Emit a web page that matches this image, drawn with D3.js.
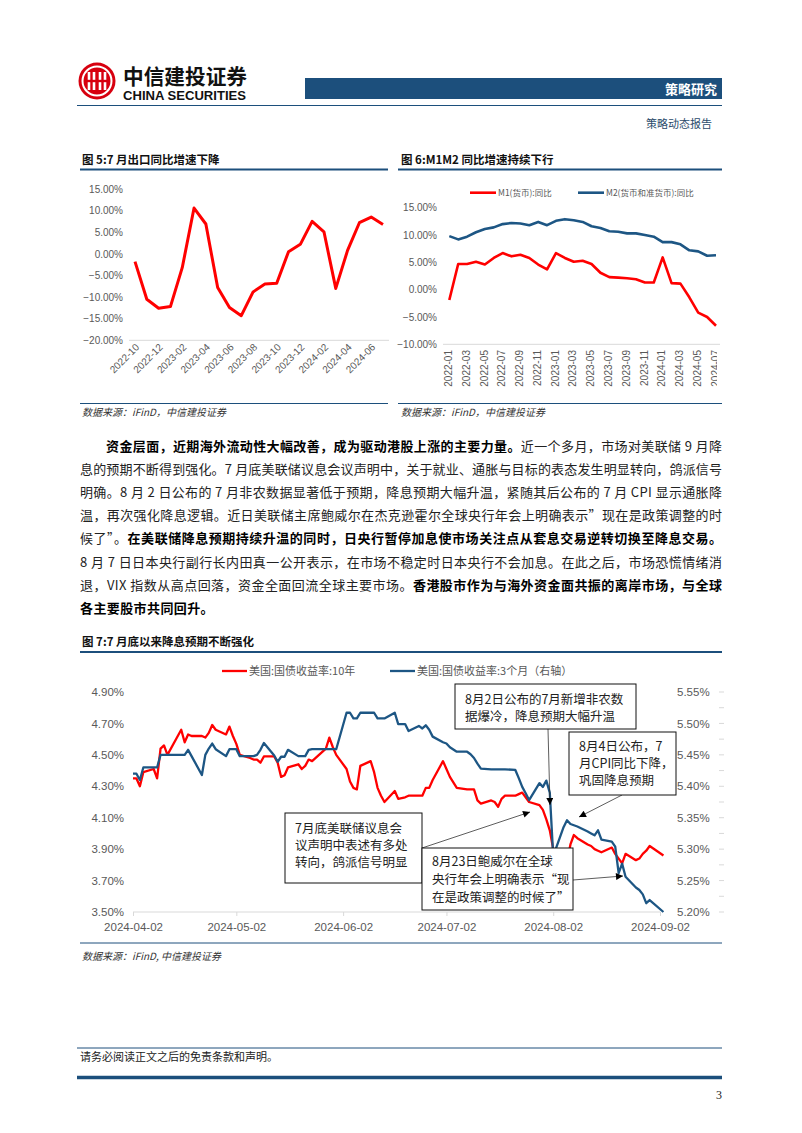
<!DOCTYPE html>
<html><head><meta charset="utf-8">
<script src="https://cdn.jsdelivr.net/npm/d3@7"></script>
<style>body{margin:0;background:#fff}svg{display:block}</style>
</head><body>
<svg id="page" width="802" height="1133"></svg>
<script>
// ---------- Chart 5 data ----------
const exportMonths = ["2022-10","2022-11","2022-12","2023-01","2023-02","2023-03","2023-04","2023-05","2023-06","2023-07","2023-08","2023-09","2023-10","2023-11","2023-12","2024-01","2024-02","2024-03","2024-04","2024-05","2024-06","2024-07"];
const exportYoY = [-1.8,-10.5,-12.6,-12.2,-3.2,10.6,6.9,-7.8,-12.4,-14.3,-8.8,-7.0,-6.8,0.5,2.2,7.5,5.1,-8.0,0.8,7.2,8.5,6.8];
const exportTicks = [-20,-15,-10,-5,0,5,10,15];

// ---------- Chart 6 data ----------
const moneyMonths = ["2022-01","2022-02","2022-03","2022-04","2022-05","2022-06","2022-07","2022-08","2022-09","2022-10","2022-11","2022-12","2023-01","2023-02","2023-03","2023-04","2023-05","2023-06","2023-07","2023-08","2023-09","2023-10","2023-11","2023-12","2024-01","2024-02","2024-03","2024-04","2024-05","2024-06","2024-07"];
const m1YoY = [-1.9,4.7,4.7,5.1,4.6,5.8,6.7,6.1,6.4,5.8,4.6,3.7,6.7,5.8,5.1,5.3,4.7,3.1,2.3,2.2,2.1,1.9,1.3,1.3,5.9,1.2,1.1,-1.4,-4.2,-5.0,-6.6];
const m2YoY = [9.8,9.2,9.7,10.5,11.1,11.4,12.0,12.2,12.1,11.8,12.4,11.8,12.6,12.9,12.7,12.4,11.6,11.3,10.7,10.6,10.3,10.3,10.0,9.7,8.7,8.7,8.3,7.2,7.0,6.2,6.3];
const moneyTicks = [-10,-5,0,5,10,15];
const moneyNames = ["M1(货币):同比","M2(货币和准货币):同比"];

// ---------- Chart 7 data ----------
const ustDates = ["2024-04-02","2024-04-03","2024-04-04","2024-04-05","2024-04-08","2024-04-09","2024-04-10","2024-04-11","2024-04-12","2024-04-15","2024-04-16","2024-04-17","2024-04-18","2024-04-19","2024-04-22","2024-04-23","2024-04-24","2024-04-25","2024-04-26","2024-04-29","2024-04-30",
"2024-05-01","2024-05-02","2024-05-03","2024-05-06","2024-05-07","2024-05-08","2024-05-09","2024-05-10","2024-05-13","2024-05-14","2024-05-15","2024-05-16","2024-05-17","2024-05-20","2024-05-21","2024-05-22","2024-05-23","2024-05-24","2024-05-28","2024-05-29","2024-05-30","2024-05-31",
"2024-06-03","2024-06-04","2024-06-05","2024-06-06","2024-06-07","2024-06-10","2024-06-11","2024-06-12","2024-06-13","2024-06-14","2024-06-17","2024-06-18","2024-06-20","2024-06-21","2024-06-24","2024-06-25","2024-06-26","2024-06-27","2024-06-28",
"2024-07-01","2024-07-02","2024-07-03","2024-07-05","2024-07-08","2024-07-09","2024-07-10","2024-07-11","2024-07-12","2024-07-15","2024-07-16","2024-07-17","2024-07-18","2024-07-19","2024-07-22","2024-07-23","2024-07-24","2024-07-25","2024-07-26","2024-07-29","2024-07-30","2024-07-31",
"2024-08-01","2024-08-02","2024-08-05","2024-08-06","2024-08-07","2024-08-08","2024-08-09","2024-08-12","2024-08-13","2024-08-14","2024-08-15","2024-08-16","2024-08-19","2024-08-20","2024-08-21","2024-08-22","2024-08-23","2024-08-26","2024-08-27","2024-08-28","2024-08-29","2024-08-30","2024-09-03"];
const ust10y = [4.35,4.35,4.30,4.39,4.41,4.35,4.54,4.56,4.50,4.62,4.66,4.58,4.63,4.62,4.62,4.61,4.64,4.69,4.66,4.63,4.68,
4.62,4.57,4.50,4.48,4.47,4.47,4.45,4.49,4.49,4.45,4.36,4.37,4.42,4.44,4.41,4.43,4.47,4.46,4.54,4.61,4.55,4.50,
4.41,4.33,4.29,4.28,4.43,4.46,4.39,4.29,4.24,4.20,4.27,4.22,4.23,4.24,4.24,4.24,4.29,4.29,4.34,
4.46,4.41,4.36,4.29,4.28,4.28,4.28,4.21,4.19,4.21,4.20,4.17,4.22,4.24,4.24,4.25,4.26,4.23,4.20,4.18,4.15,4.09,
4.02,3.90,3.80,3.82,3.93,3.99,3.97,3.93,3.92,3.90,3.89,3.88,3.91,3.87,3.84,3.81,3.87,3.83,3.84,3.87,3.89,3.92,3.86];
const ust3m = [5.42,5.42,5.41,5.43,5.43,5.43,5.45,5.45,5.45,5.45,5.45,5.45,5.458,5.448,5.418,5.45,5.46,5.468,5.459,5.448,5.459,
5.459,5.459,5.448,5.448,5.448,5.45,5.458,5.469,5.449,5.439,5.447,5.447,5.458,5.448,5.448,5.448,5.458,5.459,5.459,5.459,5.459,5.459,
5.517,5.517,5.508,5.508,5.517,5.517,5.517,5.508,5.508,5.508,5.517,5.499,5.499,5.488,5.496,5.492,5.497,5.49,5.479,
5.47,5.468,5.462,5.455,5.455,5.451,5.445,5.436,5.428,5.427,5.427,5.427,5.427,5.427,5.426,5.413,5.399,5.389,5.378,5.405,5.399,5.409,
5.39,5.289,5.335,5.346,5.340,5.338,5.336,5.328,5.325,5.322,5.33,5.315,5.312,5.304,5.262,5.277,5.256,5.239,5.235,5.228,5.214,5.219,5.20];
const leftTicks = [3.5,3.7,3.9,4.1,4.3,4.5,4.7,4.9];
const rightTicks = [5.20,5.25,5.30,5.35,5.40,5.45,5.50,5.55];
const xDateTicks = ["2024-04-02","2024-05-02","2024-06-02","2024-07-02","2024-08-02","2024-09-02"];
const ustNames = ["美国:国债收益率:10年","美国:国债收益率:3个月（右轴）"];

// ---------- styling ----------
const NAVY = "#1c4f7c";
const RED = "#ff0000";
const LBLUE = "#1d5684";
const GREY = "#595959";
const AXIS = "#d9d9d9";
const CJK = "'Noto Sans CJK SC','Noto Sans',sans-serif";
const NUM = "'Liberation Sans',Arial,sans-serif";

const svg = d3.select("#page");
svg.append("rect").attr("width",802).attr("height",1133).attr("fill","#fff");

// ---------- header ----------
const logo = svg.append("g").attr("transform","translate(97,81)");
logo.append("circle").attr("r",18.5).attr("fill","#d7000f");
logo.append("circle").attr("r",14.5).attr("fill","none").attr("stroke","#fff").attr("stroke-width",2);
[-8,-3,3,8].forEach(dx=>{
  logo.append("rect").attr("x",dx-1.3).attr("y",-9).attr("width",2.6).attr("height",18).attr("fill","#fff");
});
logo.append("rect").attr("x",-11).attr("y",-1.2).attr("width",22).attr("height",2.4).attr("fill","#d7000f");
svg.append("text").attr("x",123).attr("y",84).attr("font-family",CJK).attr("font-weight",700)
  .attr("font-size",21).attr("fill","#111").attr("textLength",124).attr("lengthAdjust","spacingAndGlyphs").text("中信建投证券");
svg.append("text").attr("x",123).attr("y",100).attr("font-family",NUM).attr("font-weight",700)
  .attr("font-size",12.5).attr("fill","#111").attr("textLength",123).attr("lengthAdjust","spacingAndGlyphs").text("CHINA SECURITIES");
svg.append("rect").attr("x",305).attr("y",78).attr("width",417).attr("height",21).attr("fill",NAVY);
svg.append("text").attr("x",717).attr("y",93.5).attr("text-anchor","end").attr("font-family",CJK).attr("font-weight",700)
  .attr("font-size",13).attr("fill","#fff").text("策略研究");
svg.append("line").attr("x1",77).attr("x2",722).attr("y1",105.5).attr("y2",105.5).attr("stroke",NAVY).attr("stroke-width",1.2);
svg.append("text").attr("x",712).attr("y",128).attr("text-anchor","end").attr("font-family",CJK)
  .attr("font-size",11).attr("fill","#2b4b6b").text("策略动态报告");

// ---------- helpers ----------
function title(x,y,txt){
  svg.append("text").attr("x",x).attr("y",y).attr("font-family",CJK).attr("font-weight",700)
    .attr("font-size",11.5).attr("fill","#111").text(txt);
}
function hline(x1,x2,y,w){
  svg.append("line").attr("x1",x1).attr("x2",x2).attr("y1",y).attr("y2",y).attr("stroke",NAVY).attr("stroke-width",w);
}
function source(x,y,txt){
  svg.append("text").attr("x",x).attr("y",y).attr("font-family",CJK).attr("font-style","italic")
    .attr("font-size",10).attr("fill","#333").text(txt);
}

// ---------- Chart 5 ----------
title(82,164,"图 5:7 月出口同比增速下降");
hline(80,388,169.5,2);
hline(80,388,403.5,1);
source(82,416,"数据来源：iFinD，中信建投证券");
{
  const x = d3.scalePoint().domain(exportMonths).range([135,383]);
  const y = d3.scaleLinear().domain([-20,15]).range([340.3,189]);
  const g = svg.append("g");
  const ya = g.append("g").attr("transform","translate(123,0)")
    .call(d3.axisLeft(y).tickValues(exportTicks).tickSize(0).tickPadding(0).tickFormat(d=>d3.format(".2f")(d)+"%"));
  ya.select(".domain").remove();
  ya.selectAll("text").attr("font-family",NUM).attr("font-size",10).attr("fill",GREY);
  g.append("line").attr("x1",129).attr("x2",389).attr("y1",340.3).attr("y2",340.3).attr("stroke",AXIS).attr("stroke-width",1);
  exportMonths.forEach((m,i)=>{
    if(i%2===0){
      g.append("text").attr("transform",`translate(${x(m)+3},${346}) rotate(-45)`)
        .attr("text-anchor","end").attr("dominant-baseline","middle")
        .attr("font-family",NUM).attr("font-size",10).attr("fill",GREY).text(m);
    }
  });
  g.append("path").datum(exportYoY).attr("fill","none").attr("stroke",RED).attr("stroke-width",3)
    .attr("stroke-linejoin","round")
    .attr("d",d3.line().x((d,i)=>x(exportMonths[i])).y(d=>y(d)));
}

// ---------- Chart 6 ----------
title(401,164,"图 6:M1M2 同比增速持续下行");
hline(398,722,169.5,2);
hline(398,722,403.5,1);
source(401,416,"数据来源：iFinD，中信建投证券");
{
  const x = d3.scalePoint().domain(moneyMonths).range([449.3,716]);
  const y = d3.scaleLinear().domain([-10,15]).range([344.3,207.7]);
  const g = svg.append("g");
  const ya = g.append("g").attr("transform","translate(437,0)")
    .call(d3.axisLeft(y).tickValues(moneyTicks).tickSize(0).tickPadding(0).tickFormat(d=>d3.format(".2f")(d)+"%"));
  ya.select(".domain").remove();
  ya.selectAll("text").attr("font-family",NUM).attr("font-size",10).attr("fill",GREY);
  g.append("line").attr("x1",443).attr("x2",720).attr("y1",344.3).attr("y2",344.3).attr("stroke",AXIS).attr("stroke-width",1);
  svg.append("clipPath").attr("id","c6").append("rect").attr("x",380).attr("y",340).attr("width",337).attr("height",60);
  const lab = g.append("g").attr("clip-path","url(#c6)");
  moneyMonths.forEach((m,i)=>{
    if(i%2===0){
      lab.append("text").attr("transform",`translate(${x(m)},${350}) rotate(-90)`)
        .attr("text-anchor","end").attr("dominant-baseline","middle")
        .attr("font-family",NUM).attr("font-size",10).attr("fill",GREY).text(m);
    }
  });
  const ln = d3.line().x((d,i)=>x(moneyMonths[i])).y(d=>y(d));
  g.append("path").datum(m2YoY).attr("fill","none").attr("stroke",LBLUE).attr("stroke-width",2.6).attr("stroke-linejoin","round").attr("d",ln);
  g.append("path").datum(m1YoY).attr("fill","none").attr("stroke",RED).attr("stroke-width",2.6).attr("stroke-linejoin","round").attr("d",ln);
  const lg = [[470,RED,moneyNames[0]],[578,LBLUE,moneyNames[1]]];
  lg.forEach(([lx,c,t])=>{
    g.append("line").attr("x1",lx).attr("x2",lx+26).attr("y1",192.7).attr("y2",192.7).attr("stroke",c).attr("stroke-width",2.6);
    g.append("text").attr("x",lx+28).attr("y",196).attr("font-family",CJK).attr("font-size",8.5).attr("fill",GREY).text(t);
  });
}

// ---------- Body text ----------
const bodyLines = [
  {x:106, just:true, parts:[["资金层面，近期海外流动性大幅改善，成为驱动港股上涨的主要力量。",1],["近一个多月，市场对美联储 9 月降",0]]},
  {x:80, just:true, parts:[["息的预期不断得到强化。7 月底美联储议息会议声明中，关于就业、通胀与目标的表态发生明显转向，鸽派信号",0]]},
  {x:80, just:true, parts:[["明确。8 月 2 日公布的 7 月非农数据显著低于预期，降息预期大幅升温，紧随其后公布的 7 月 CPI 显示通胀降",0]]},
  {x:80, just:true, parts:[["温，再次强化降息逻辑。近日美联储主席鲍威尔在杰克逊霍尔全球央行年会上明确表示”现在是政策调整的时",0]]},
  {x:80, just:true, parts:[["候了”。",0],["在美联储降息预期持续升温的同时，日央行暂停加息使市场关注点从套息交易逆转切换至降息交易。",1]]},
  {x:80, just:true, parts:[["8 月 7 日日本央行副行长内田真一公开表示，在市场不稳定时日本央行不会加息。在此之后，市场恐慌情绪消",0]]},
  {x:80, just:true, parts:[["退，VIX 指数从高点回落，资金全面回流全球主要市场。",0],["香港股市作为与海外资金面共振的离岸市场，与全球",1]]},
  {x:80, just:false, parts:[["各主要股市共同回升。",1]]}
];
bodyLines.forEach((L,i)=>{
  const t = svg.append("text").attr("x",L.x).attr("y",451+i*23.1).attr("font-family",CJK).attr("font-size",13).attr("fill","#222");
  if(L.just) t.attr("textLength",722-L.x).attr("lengthAdjust","spacing");
  else t.attr("letter-spacing",0.4);
  L.parts.forEach(([s,b])=>{
    t.append("tspan").attr("font-weight",b?700:400).attr("fill",b?"#000":"#222").text(s);
  });
});

// ---------- Chart 7 ----------
title(82,646,"图 7:7 月底以来降息预期不断强化");
hline(80,722,652,2);
hline(80,722,943,1);
source(82,960,"数据来源：iFinD, 中信建投证券");
{
  const parse = d3.timeParse("%Y-%m-%d");
  const x = d3.scaleTime().domain([parse("2024-04-02"),parse("2024-09-02")]).range([133,660]);
  const yL = d3.scaleLinear().domain([3.5,4.9]).range([912,692]);
  const yR = d3.scaleLinear().domain([5.20,5.55]).range([912,692]);
  const g = svg.append("g");
  const la = g.append("g").attr("transform","translate(124,0)")
    .call(d3.axisLeft(yL).tickValues(leftTicks).tickSize(0).tickPadding(0).tickFormat(d=>d3.format(".2f")(d)+"%"));
  la.select(".domain").remove();
  la.selectAll("text").attr("font-family",NUM).attr("font-size",11.5).attr("fill",GREY);
  const ra = g.append("g").attr("transform","translate(677,0)")
    .call(d3.axisRight(yR).tickValues(rightTicks).tickSize(0).tickPadding(0).tickFormat(d=>d3.format(".2f")(d)+"%"));
  ra.select(".domain").remove();
  ra.selectAll("text").attr("font-family",NUM).attr("font-size",11.5).attr("fill",GREY);
  const minor = d3.range(0,15).map(i=>5.20+i*0.025);
  g.selectAll(".mt").data(minor).join("line").attr("x1",719).attr("x2",724)
    .attr("y1",d=>yR(d)).attr("y2",d=>yR(d)).attr("stroke",AXIS).attr("stroke-width",1);
  const xa = g.append("g").attr("transform","translate(0,912)")
    .call(d3.axisBottom(x).tickValues(xDateTicks.map(parse)).tickSize(4).tickPadding(7).tickFormat(d3.timeFormat("%Y-%m-%d")));
  xa.select(".domain").attr("stroke",AXIS).attr("d","M133,0H660");
  xa.selectAll(".tick line").attr("stroke",AXIS);
  xa.selectAll("text").attr("font-family",NUM).attr("font-size",11.5).attr("fill",GREY);

  const dates = ustDates.map(parse);
  g.append("path").datum(ust10y).attr("fill","none").attr("stroke",RED).attr("stroke-width",2.3).attr("stroke-linejoin","round")
    .attr("d",d3.line().x((d,i)=>x(dates[i])).y(d=>yL(d)));
  g.append("path").datum(ust3m).attr("fill","none").attr("stroke",LBLUE).attr("stroke-width",2.3).attr("stroke-linejoin","round")
    .attr("d",d3.line().x((d,i)=>x(dates[i])).y(d=>yR(d)));

  [[222,RED,ustNames[0]],[390,LBLUE,ustNames[1]]].forEach(([lx,c,t])=>{
    g.append("line").attr("x1",lx).attr("x2",lx+25).attr("y1",671).attr("y2",671).attr("stroke",c).attr("stroke-width",2.3);
    g.append("text").attr("x",lx+27).attr("y",675).attr("font-family",CJK).attr("font-size",11).attr("fill",GREY).text(t);
  });

  const defs = svg.append("defs");
  defs.append("marker").attr("id","ah").attr("viewBox","0 0 10 10").attr("refX",10).attr("refY",5)
    .attr("markerWidth",9).attr("markerHeight",7).attr("markerUnits","userSpaceOnUse").attr("orient","auto")
    .append("path").attr("d","M0,0L10,5L0,10z").attr("fill","#000");
  const arrows = [[548,729,550,805],[622,795,579,817],[422,848,530,812],[573,880,623,876]];
  arrows.forEach(([x1,y1,x2,y2])=>{
    g.append("line").attr("x1",x1).attr("y1",y1).attr("x2",x2).attr("y2",y2)
      .attr("stroke","#333").attr("stroke-width",0.8).attr("marker-end","url(#ah)");
  });
  const boxes = [
    {x:455,y:684,w:181,h:45,tx:465,ty:[704,721],lines:["8月2日公布的7月新增非农数","据爆冷，降息预期大幅升温"]},
    {x:569,y:732,w:107,h:63,tx:579,ty:[751,768,785],lines:["8月4日公布，7","月CPI同比下降，","巩固降息预期"]},
    {x:285,y:813,w:137,h:70,tx:295,ty:[833,850,867],lines:["7月底美联储议息会","议声明中表述有多处","转向，鸽派信号明显"]},
    {x:422,y:848,w:151,h:62,tx:432,ty:[866,884,902],lines:["8月23日鲍威尔在全球","央行年会上明确表示“现","在是政策调整的时候了”"]}
  ];
  boxes.forEach(b=>{
    g.append("rect").attr("x",b.x).attr("y",b.y).attr("width",b.w).attr("height",b.h)
      .attr("fill","#fff").attr("stroke","#111").attr("stroke-width",1);
    b.lines.forEach((s,i)=>{
      g.append("text").attr("x",b.tx).attr("y",b.ty[i]).attr("font-family",CJK).attr("font-size",12.5)
        .attr("fill","#222").text(s);
    });
  });
}

// ---------- Footer ----------
hline(77,722,1048,1);
svg.append("text").attr("x",80).attr("y",1061).attr("font-family",CJK).attr("font-size",11).attr("fill","#222")
  .text("请务必阅读正文之后的免责条款和声明。");
hline(77,722,1077.5,3.5);
svg.append("text").attr("x",722).attr("y",1099).attr("text-anchor","end").attr("font-family","'Liberation Serif',serif")
  .attr("font-size",12).attr("fill","#222").text("3");
</script>
</body></html>
